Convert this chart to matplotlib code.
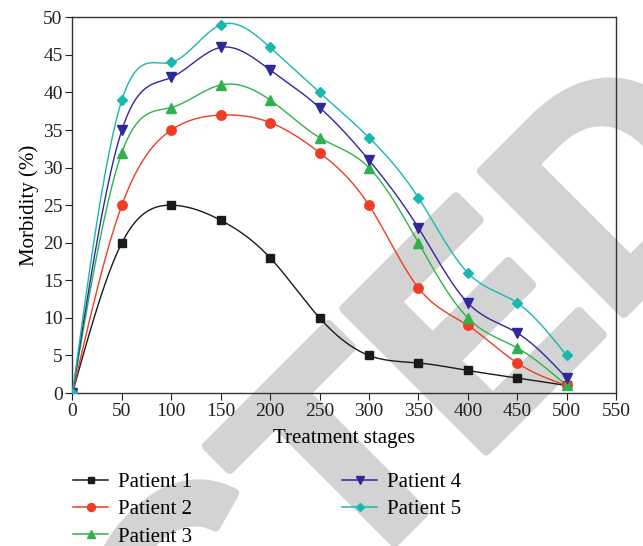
import numpy as np
import matplotlib.pyplot as plt
import matplotlib.patheffects as pe

plt.rcParams['font.family'] = ['Liberation Serif', 'DejaVu Serif']

stages = [0, 50, 100, 150, 200, 250, 300, 350, 400, 450, 500]
patient1 = [0, 20, 25, 23, 18, 10, 5, 4, 3, 2, 1]
patient2 = [0, 25, 35, 37, 36, 32, 25, 14, 9, 4, 1]
patient3 = [0, 32, 38, 41, 39, 34, 30, 20, 10, 6, 1]
patient4 = [0, 35, 42, 46, 43, 38, 31, 22, 12, 8, 2]
patient5 = [0, 39, 44, 49, 46, 40, 34, 26, 16, 12, 5]

names = ['Patient 1', 'Patient 2', 'Patient 3', 'Patient 4', 'Patient 5']
colors = ['#1a1a1a', '#f03c24', '#2fb24c', '#30289a', '#18b8b0']
markers = ['s', 'o', '^', 'v', 'D']
msizes = [5.6, 6.8, 7.5, 7.5, 5.3]


def natural_spline(x, y, n=400):
    # plain natural cubic spline through the points, just for drawing the line
    x = np.asarray(x, float)
    y = np.asarray(y, float)
    k = len(x)
    h = np.diff(x)
    A = np.zeros((k, k))
    r = np.zeros(k)
    A[0, 0] = A[-1, -1] = 1
    for i in range(1, k - 1):
        A[i, i - 1] = h[i - 1]
        A[i, i] = 2 * (h[i - 1] + h[i])
        A[i, i + 1] = h[i]
        r[i] = 6 * ((y[i + 1] - y[i]) / h[i] - (y[i] - y[i - 1]) / h[i - 1])
    m = np.linalg.solve(A, r)
    xs = np.linspace(x[0], x[-1], n)
    idx = np.clip(np.searchsorted(x, xs) - 1, 0, k - 2)
    x0, x1 = x[idx], x[idx + 1]
    hh = x1 - x0
    t0, t1 = x1 - xs, xs - x0
    ys = (m[idx] * t0**3 + m[idx + 1] * t1**3) / (6 * hh) \
        + (y[idx] / hh - m[idx] * hh / 6) * t0 \
        + (y[idx + 1] / hh - m[idx + 1] * hh / 6) * t1
    return xs, ys


fig = plt.figure(figsize=(6.43, 5.46), dpi=100)

# retraction watermark, sits behind the axes
fig.text(1.180, 0.674, 'RETRACTED', rotation=45, fontsize=210,
         family='Liberation Sans', fontweight='bold', color='#d3d3d3',
         ha='right', va='baseline', rotation_mode='anchor', zorder=-1,
         path_effects=[pe.withStroke(linewidth=7, foreground='#d3d3d3')])

ax = fig.add_axes([0.1127, 0.2802, 0.8453, 0.6880])
ax.patch.set_alpha(0)

series = [patient1, patient2, patient3, patient4, patient5]
handles = []
for ys, name, c, mk, ms in zip(series, names, colors, markers, msizes):
    sx, sy = natural_spline(stages, ys)
    ax.plot(sx, sy, color=c, lw=1.0, zorder=3)
    ax.plot(stages, ys, ls='none', marker=mk, color=c, ms=ms, zorder=4)
    h, = ax.plot([], [], color=c, marker=mk, ms=ms * 0.85, lw=1.1, label=name)
    handles.append(h)

ax.set_xlim(0, 550)
ax.set_ylim(0, 50)
ax.set_xticks(range(0, 551, 50))
ax.set_yticks(range(0, 51, 5))
ax.tick_params(direction='out', labelsize=14, length=5, pad=2, colors='#222222')
ax.set_xlabel('Treatment stages', fontsize=15, labelpad=7)
ax.set_ylabel('Morbidity (%)', fontsize=15, labelpad=3)
for s in ax.spines.values():
    s.set_color('#333333')
    s.set_linewidth(1.0)

fig.legend(handles=handles, ncol=2, loc='upper left',
           bbox_to_anchor=(63 / 643, 1 - 462 / 546), borderpad=0,
           frameon=False, fontsize=15, handlelength=1.65, handletextpad=0.5,
           columnspacing=7.2, labelspacing=0.37)

fig.savefig('out.png', dpi=100)
